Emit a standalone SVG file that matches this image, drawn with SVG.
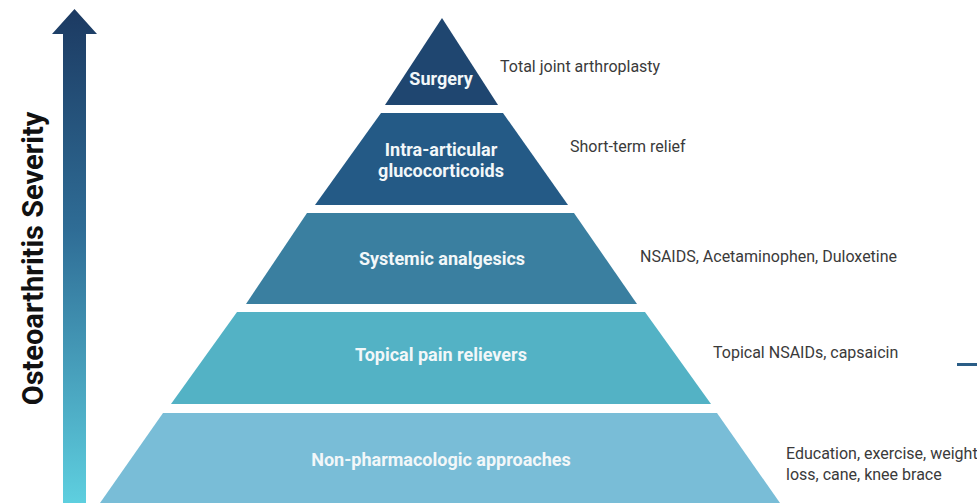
<svg xmlns="http://www.w3.org/2000/svg" width="977" height="503" viewBox="0 0 977 503">
<defs>
<linearGradient id="sev" x1="0" y1="0" x2="0" y2="1">
<stop offset="0" stop-color="#1c3a62"/>
<stop offset="0.45" stop-color="#2f6d96"/>
<stop offset="1" stop-color="#5ecfdf"/>
</linearGradient>
<style>
.lbl{font-family:Roboto,"Liberation Sans",sans-serif;font-weight:bold;font-size:18px;fill:#f2f7f9;text-anchor:middle}
.note{font-family:Roboto,"Liberation Sans",sans-serif;font-size:16px;fill:#3a3a3a}
.axis{font-family:Roboto,"Liberation Sans",sans-serif;font-weight:bold;font-size:29px;fill:#111;text-anchor:middle}
</style>
</defs>
<rect width="977" height="503" fill="#ffffff"/>
<g id="axis">
<polygon points="63,503 63,34 52,34 74.5,9 97,34 86,34 86,503" fill="url(#sev)"/>
<text class="axis" transform="translate(43,258.5) rotate(-90)">Osteoarthritis Severity</text>
</g>
<g id="level-surgery">
<polygon points="442,18 385,105 498,105" fill="#1f4670"/>
<text class="lbl" x="441" y="85">Surgery</text>
<text class="note" x="500" y="72">Total joint arthroplasty</text>
</g>
<g id="level-intra">
<polygon points="381,113 503,113 568,205 315,205" fill="#245a86"/>
<text class="lbl" x="441" y="155.5">Intra-articular</text>
<text class="lbl" x="441" y="176.5">glucocorticoids</text>
<text class="note" x="570" y="152">Short-term relief</text>
</g>
<g id="level-systemic">
<polygon points="307,213 574,213 637,304 246,304" fill="#3a7fa0"/>
<text class="lbl" x="442" y="264.5">Systemic analgesics</text>
<text class="note" x="640" y="262">NSAIDS, Acetaminophen, Duloxetine</text>
</g>
<g id="level-topical">
<polygon points="237,312 645,312 711,404 171,404" fill="#53b2c5"/>
<text class="lbl" x="441" y="360.5">Topical pain relievers</text>
<text class="note" x="713" y="357.5">Topical NSAIDs, capsaicin</text>
</g>
<g id="level-nonpharm">
<polygon points="163,413 717,413 780,503 100,503" fill="#79bdd7"/>
<text class="lbl" x="441" y="465.5">Non-pharmacologic approaches</text>
<text class="note" x="786" y="458.5">Education, exercise, weight</text>
<text class="note" x="786" y="479.5">loss, cane, knee brace</text>
</g>
<g id="connectors">
<line x1="957" y1="364.5" x2="977" y2="364.5" stroke="#2a5d86" stroke-width="3"/>
</g>
</svg>
